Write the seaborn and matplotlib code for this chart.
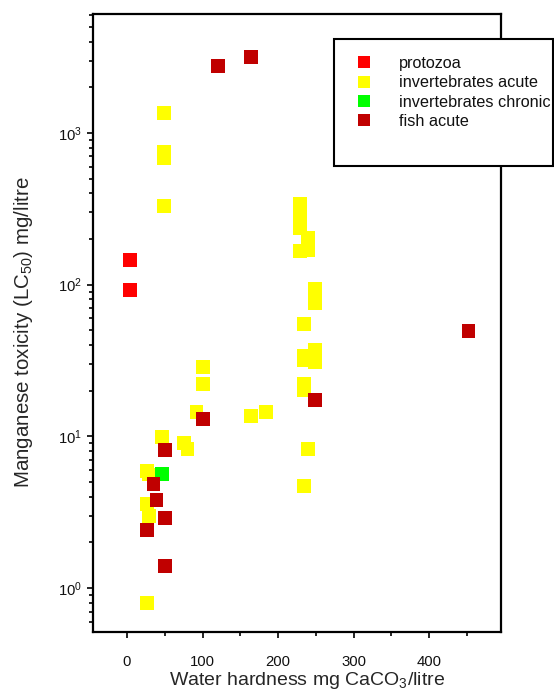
import numpy as np
import pandas as pd
import seaborn as sns
import matplotlib.pyplot as plt
from matplotlib.patches import Rectangle
from matplotlib.ticker import MultipleLocator

# values (hardness mg CaCO3/l, LC50 mg/l)
protozoa_x = [4, 4]
protozoa_y = [145, 92]

acute_x = [49, 49, 49, 49, 229, 229, 229, 229, 240, 240, 249, 249, 234, 234, 234,
           249, 249, 234, 234, 240, 234, 101, 101, 164, 184, 92, 46, 75, 80, 26, 29,
           26, 29, 26]
acute_y = [1350, 750, 680, 330, 340, 288, 236, 167, 203, 169, 93, 76, 55, 34, 32,
           37, 31, 22.1, 20.2, 8.3, 4.7, 28.6, 22.1, 13.6, 14.5, 14.5, 9.9, 9.0, 8.3,
           5.9, 5.6, 3.6, 3.0, 0.80]

chronic_x = [46]
chronic_y = [5.64]

fish_x = [120, 164, 452, 249, 100, 50, 35, 39, 50, 27, 50]
fish_y = [2760, 3170, 49.4, 17.4, 13.0, 8.1, 4.85, 3.8, 2.89, 2.41, 1.40]

groups = ["protozoa", "invertebrates acute", "invertebrates chronic", "fish acute"]
colors = ["#FF0000", "#FFFF00", "#00FF00", "#C00000"]

df = pd.concat([
    pd.DataFrame({"hardness": protozoa_x, "lc50": protozoa_y, "group": groups[0]}),
    pd.DataFrame({"hardness": acute_x, "lc50": acute_y, "group": groups[1]}),
    pd.DataFrame({"hardness": chronic_x, "lc50": chronic_y, "group": groups[2]}),
    pd.DataFrame({"hardness": fish_x, "lc50": fish_y, "group": groups[3]}),
], ignore_index=True)

sns.set_style("ticks")
plt.rcParams['font.family'] = ['Liberation Sans', 'DejaVu Sans']
plt.rcParams['mathtext.fontset'] = 'custom'
plt.rcParams['mathtext.rm'] = 'Liberation Sans'
plt.rcParams['mathtext.it'] = 'Liberation Sans:italic'
plt.rcParams['mathtext.bf'] = 'Liberation Sans:bold'

fig = plt.figure(figsize=(5.54, 6.94), dpi=100)
ax = fig.add_axes([93/554, 1-632/694, (501-93)/554, (632-14)/694])

sns.scatterplot(data=df, x="hardness", y="lc50", hue="group", hue_order=groups,
                palette=colors, marker="s", s=100, linewidth=0, ax=ax, zorder=3)

ax.set_yscale("log")
ax.set_xlim(-45, 495)
ax.set_ylim(0.513, 6080)
ax.xaxis.set_major_locator(MultipleLocator(100))
ax.xaxis.set_minor_locator(MultipleLocator(50))

for sp in ax.spines.values():
    sp.set_visible(True)
    sp.set_linewidth(1.6)
    sp.set_color("black")
ax.tick_params(which="major", length=4, width=1.2, color="black", labelsize=10.7,
               labelcolor="#111111")
ax.tick_params(which="minor", length=2.8, width=1.2, color="black")
ax.tick_params(axis="x", pad=12.5)
ax.tick_params(axis="y", pad=4)

ax.set_xlabel("Water hardness mg CaCO$_3$/litre", fontsize=14)
ax.set_ylabel("Manganese toxicity (LC$_{50}$) mg/litre", fontsize=14.8)
ax.xaxis.set_label_coords((307-93)/408, (632-670)/618)
ax.yaxis.set_label_coords((35-93)/408, (632-332)/618)

# legend box (sticks out past the axes and hides the right spine)
box = Rectangle((334/554, 1-166/694), (553-334)/554, (166-39)/694,
                transform=fig.transFigure, facecolor="white", edgecolor="black",
                lw=1.5, clip_on=False, zorder=10)
ax.add_patch(box)

sns.move_legend(ax, "upper left", bbox_to_anchor=(356/554, 1-56/694),
                bbox_transform=fig.transFigure, frameon=False, title=None,
                fontsize=11.7, handlelength=1.0, handletextpad=1.65,
                labelspacing=0.27, borderpad=0, borderaxespad=0)
leg = ax.get_legend()
leg.set_zorder(11)
for h in leg.legend_handles:
    try:
        h.set_markersize(8.6)
        h.set_markeredgewidth(0)
    except AttributeError:
        h.set_sizes([74])
for t in leg.get_texts():
    t.set_color("#111111")

fig.savefig("out.png", dpi=100)
